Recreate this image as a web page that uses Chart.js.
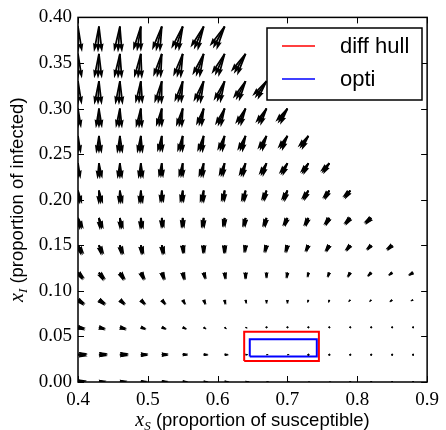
<!DOCTYPE html>
<html>
<head>
<meta charset="utf-8">
<script src="https://cdn.jsdelivr.net/npm/chart.js@4"></script>
<style>
  html, body { margin: 0; padding: 0; background: #fff; }
  #wrap { width: 446px; height: 430px; }
</style>
</head>
<body>
<div id="wrap"><canvas id="myChart"></canvas></div>
<script>
// grid of the vector field (arrow tails)
var xS = [0.40, 0.43, 0.46, 0.49, 0.52, 0.55, 0.58, 0.61, 0.64, 0.67, 0.70, 0.73, 0.76, 0.79, 0.82, 0.85, 0.88];
var xI = [0.00, 0.03, 0.06, 0.09, 0.12, 0.15, 0.18, 0.21, 0.24, 0.27, 0.30, 0.33, 0.36, 0.39];

// arrow components per row of xI (units of 1e-3), only where xS + xI <= 1
var dS = [
  [13, 11, 11, 10, 10, 8, 7, 7, 6, 4, 4, 3, 3, 1.4, 1.4, 1.4, 0.7],
  [14, 13, 13, 11, 10, 8, 7, 6, 4, 3, 3, 1.4, 1.4, 1.4, 0.7, 0.7, 0.7],
  [11, 10, 10, 8, 7, 6, 4, 3, 3, 1.4, 1.4, 0, 0, 0, -1.4, -1.4, -1.4],
  [10, 10, 8, 7, 6, 4, 3, 1.4, 1.4, 0, 0, -1.4, -1.4, -3, -3, -4, -4],
  [8.5, 8.5, 7, 5.6, 4.2, 2.8, 2.8, 1.4, 0, 0, -1.4, -1.4, -2.8, -4.2, -5.6, -5.6, -7],
  [7, 5.6, 4.2, 2.8, 2.8, 1.4, 0, 0, -1.4, -2.8, -2.8, -4.2, -5.6, -7, -7, -8.5],
  [5.6, 4.2, 2.8, 1.4, 1.4, 0, -1.4, -1.4, -2.8, -4.2, -5.6, -5.6, -7, -8.5, -9.9],
  [2.8, 2.8, 1.4, 0, 0, -1.4, -2.8, -2.8, -4.2, -5.6, -7, -8.5, -8.5, -9.9],
  [0, 1.4, 0, 0, -1.4, -2.8, -4.2, -5.6, -7, -8.5, -9.9, -9.9, -11.3],
  [0, 0, 0, -1.4, -2.8, -4.2, -5.6, -7.1, -8.5, -9.9, -11.3, -12.7],
  [0, 0, -1.4, -2.8, -4.2, -5.6, -7.1, -9.9, -11.3, -12.7, -14.1],
  [0, -1.4, -1.4, -2.8, -5.6, -7.1, -9.9, -11.3, -14.1, -16.9],
  [0, -1.4, -2.8, -4.2, -7.1, -8.5, -11.3, -14.1, -16.9],
  [0, -1.4, -2.8, -5.6, -8.5, -11.3, -14.1, -16.9]
];
var dI = [
  [0, 0, 0, 0, 0, 0, 0, 0, 0, 0, 0, 0, 0, 0, 0, 0, 0],
  [0, 0, 0, 0, 0, 0, 0, 0, 0, 0, 0, 0, 0, 0, 0, 0, 0],
  [-2.2, -2.2, -2.2, -2.2, -2.2, -2.2, -2.2, -2.2, -1.1, -1.1, -1.1, -1.1, -1.1, -1.1, 0, 0, 0],
  [-5.5, -5.5, -5.5, -5.5, -5.5, -5.5, -5.5, -5.5, -4.4, -4.4, -4.4, -3.3, -3.3, -2.2, -2.2, -2.2, -1.1],
  [-7.7, -8.7, -8.7, -8.7, -8.7, -8.7, -7.7, -7.7, -7.7, -6.6, -6.6, -5.5, -5.5, -5.5, -4.4, -3.3, -3.3],
  [-10.9, -10.9, -10.9, -10.9, -10.9, -9.8, -9.8, -9.8, -8.7, -8.7, -8.7, -7.7, -7.7, -6.6, -5.5, -5.5],
  [-13.1, -13.1, -13.1, -13.1, -12, -12, -12, -10.9, -10.9, -10.9, -9.8, -9.8, -8.7, -7.7, -6.6],
  [-15.3, -15.3, -15.3, -15.3, -14.2, -14.2, -14.2, -13.1, -13.1, -12, -12, -10.9, -9.8, -8.7],
  [-17.5, -17.5, -17.5, -17.5, -16.4, -16.4, -16.4, -15.3, -15.3, -14.2, -13.1, -12, -10.9],
  [-19.7, -19.7, -19.7, -19.7, -18.6, -18.6, -18.6, -17.5, -17.5, -16.4, -15.3, -14.2],
  [-21.9, -21.9, -21.9, -21.9, -20.8, -20.8, -19.7, -19.7, -18.6, -17.5, -16.4],
  [-26.2, -26.2, -26.2, -25.1, -25.1, -24, -24, -23, -20.8, -18.6],
  [-27.3, -27.3, -27.3, -27.3, -26.2, -26.2, -25.1, -24, -21.9],
  [-28.4, -28.4, -28.4, -27.3, -27.3, -26.2, -25.1, -24]
];

// rectangles [min, max]
var diffHullS = [0.638, 0.745];
var diffHullI = [0.023, 0.055];
var optiS = [0.646, 0.742];
var optiI = [0.028, 0.047];

var xTicks = [0.4, 0.5, 0.6, 0.7, 0.8, 0.9];
var yTicks = [0.00, 0.05, 0.10, 0.15, 0.20, 0.25, 0.30, 0.35, 0.40];

var arrowScale = 0.001;
var arrowWidth = 1.75;
var fanDeg = [-9, 0, 9];

function rectPoints(s, i) {
  return [
    {x: s[0], y: i[0]}, {x: s[1], y: i[0]}, {x: s[1], y: i[1]},
    {x: s[0], y: i[1]}, {x: s[0], y: i[0]}
  ];
}

// quiver style arrow, tail at (tx, ty)
function drawArrow(ctx, tx, ty, px, py, deg) {
  var L = Math.hypot(px, py);
  var w = arrowWidth;
  if (L < w) {
    ctx.beginPath();
    ctx.arc(tx, ty, 0.9, 0, Math.PI * 2);
    ctx.fill();
    return;
  }
  var a = Math.atan2(py, px) + deg * Math.PI / 180;
  var hl = 5 * w, hal = 4.5 * w, hw = 1.5 * w, sw = 0.5 * w;
  if (L < hl) {
    var k = L / hl;
    hl = L; hal *= k; hw *= k; sw *= k;
  }
  var pts = [[0, sw], [L - hal, sw], [L - hl, hw], [L, 0], [L - hl, -hw], [L - hal, -sw], [0, -sw]];
  var c = Math.cos(a), s = Math.sin(a);
  ctx.beginPath();
  pts.forEach(function (p, n) {
    var X = tx + p[0] * c - p[1] * s, Y = ty + p[0] * s + p[1] * c;
    if (n === 0) ctx.moveTo(X, Y); else ctx.lineTo(X, Y);
  });
  ctx.closePath();
  ctx.fill();
}

var quiverPlugin = {
  id: 'quiver',
  afterDatasetsDraw: function (chart) {
    var ctx = chart.ctx, a = chart.chartArea;
    var x = chart.scales.x, y = chart.scales.y;
    ctx.save();
    ctx.beginPath();
    ctx.rect(a.left, a.top, a.right - a.left, a.bottom - a.top);
    ctx.clip();
    ctx.fillStyle = '#000';
    xI.forEach(function (iv, r) {
      dS[r].forEach(function (u, c) {
        var sv = xS[c], v = dI[r][c];
        var tx = x.getPixelForValue(sv), ty = y.getPixelForValue(iv);
        var px = x.getPixelForValue(sv + u * arrowScale) - tx;
        var py = y.getPixelForValue(iv + v * arrowScale) - ty;
        fanDeg.forEach(function (d) { drawArrow(ctx, tx, ty, px, py, d); });
      });
    });
    ctx.restore();
  }
};

function mathLabel(ctx, sym, sub, rest, cx, base) {
  ctx.font = 'italic 20px "Liberation Serif"';
  var w1 = ctx.measureText(sym).width;
  ctx.font = 'italic 13px "Liberation Serif"';
  var w2 = ctx.measureText(sub).width;
  ctx.font = '18.5px "Liberation Sans"';
  var w3 = ctx.measureText(rest).width;
  var x0 = cx - (w1 + w2 + w3) / 2;
  ctx.textBaseline = 'alphabetic';
  ctx.textAlign = 'left';
  ctx.fillStyle = '#000';
  ctx.font = 'italic 20px "Liberation Serif"';
  ctx.fillText(sym, x0, base);
  ctx.font = 'italic 13px "Liberation Serif"';
  ctx.fillText(sub, x0 + w1, base + 4);
  ctx.font = '18.5px "Liberation Sans"';
  ctx.fillText(rest, x0 + w1 + w2, base);
}

var framePlugin = {
  id: 'frame',
  afterDraw: function (chart) {
    var ctx = chart.ctx, a = chart.chartArea;
    var x = chart.scales.x, y = chart.scales.y;
    ctx.save();
    ctx.strokeStyle = '#000';
    ctx.lineWidth = 1;
    ctx.beginPath();
    xTicks.forEach(function (t) {
      var p = Math.round(x.getPixelForValue(t)) + 0.5;
      ctx.moveTo(p, a.bottom); ctx.lineTo(p, a.bottom - 6);
      ctx.moveTo(p, a.top); ctx.lineTo(p, a.top + 6);
    });
    yTicks.forEach(function (t) {
      var p = Math.round(y.getPixelForValue(t)) + 0.5;
      ctx.moveTo(a.left, p); ctx.lineTo(a.left + 6, p);
      ctx.moveTo(a.right, p); ctx.lineTo(a.right - 6, p);
    });
    ctx.stroke();
    ctx.lineWidth = 1.5;
    ctx.strokeRect(a.left, a.top, a.right - a.left, a.bottom - a.top);

    // axis titles
    mathLabel(ctx, 'x', 'S', ' (proportion of susceptible)', (a.left + a.right) / 2, 426);
    ctx.save();
    ctx.translate(23, (a.top + a.bottom) / 2);
    ctx.rotate(-Math.PI / 2);
    mathLabel(ctx, 'x', 'I', ' (proportion of infected)', 0, 0);
    ctx.restore();

    // legend
    var lx = 267, ly = 28, lw = 155, lh = 72;
    ctx.fillStyle = '#fff';
    ctx.fillRect(lx, ly, lw, lh);
    ctx.lineWidth = 1.5;
    ctx.strokeStyle = '#000';
    ctx.strokeRect(lx, ly, lw, lh);
    ctx.font = '22px "Liberation Sans"';
    ctx.textBaseline = 'middle';
    ctx.textAlign = 'left';
    chart.data.datasets.forEach(function (ds, n) {
      var yy = ly + 18 + n * 33;
      ctx.strokeStyle = ds.borderColor;
      ctx.lineWidth = 1.5;
      ctx.beginPath();
      ctx.moveTo(lx + 15, yy); ctx.lineTo(lx + 48, yy);
      ctx.stroke();
      ctx.fillStyle = '#000';
      ctx.fillText(ds.label, lx + 73, yy + 1);
    });
    ctx.restore();
  }
};

var ctx = document.getElementById('myChart').getContext('2d');
var myChart = new Chart(ctx, {
  type: 'scatter',
  data: {
    datasets: [{
      label: 'diff hull',
      data: rectPoints(diffHullS, diffHullI),
      showLine: true,
      borderColor: '#ff0000',
      borderWidth: 2,
      pointRadius: 0,
      fill: false
    }, {
      label: 'opti',
      data: rectPoints(optiS, optiI),
      showLine: true,
      borderColor: '#0000ff',
      borderWidth: 2,
      pointRadius: 0,
      fill: false
    }]
  },
  options: {
    responsive: true,
    maintainAspectRatio: false,
    animation: false,
    layout: { padding: { left: 0, right: 14, top: 16, bottom: 0 } },
    plugins: {
      legend: { display: false },
      tooltip: { enabled: false }
    },
    scales: {
      x: {
        type: 'linear',
        min: 0.4,
        max: 0.9,
        grid: { display: false, drawTicks: false },
        border: { display: false },
        afterBuildTicks: function (s) { s.ticks = xTicks.map(function (v) { return {value: v}; }); },
        afterFit: function (s) { s.height = 48; },
        ticks: {
          padding: 7,
          color: '#000',
          font: { family: '"Liberation Serif"', size: 19 },
          callback: function (v) { return Number(v).toFixed(1); }
        }
      },
      y: {
        type: 'linear',
        min: 0,
        max: 0.4,
        grid: { display: false, drawTicks: false },
        border: { display: false },
        afterBuildTicks: function (s) { s.ticks = yTicks.map(function (v) { return {value: v}; }); },
        afterFit: function (s) { s.width = 78; },
        ticks: {
          padding: 6,
          color: '#000',
          font: { family: '"Liberation Serif"', size: 19 },
          callback: function (v) { return Number(v).toFixed(2); }
        }
      }
    }
  },
  plugins: [quiverPlugin, framePlugin]
});
</script>
</body>
</html>
